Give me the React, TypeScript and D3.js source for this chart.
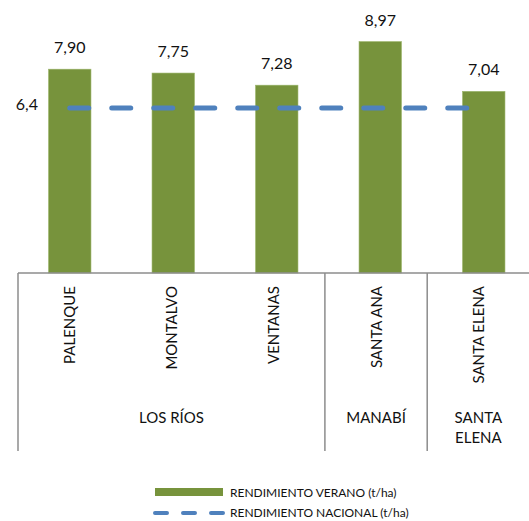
import React from "react";
import * as d3 from "d3";

// Yield per canton (t/ha) and the national reference line
const cantons = ["PALENQUE", "MONTALVO", "VENTANAS", "SANTA ANA", "SANTA ELENA"];
const provinces = ["LOS RÍOS", "LOS RÍOS", "LOS RÍOS", "MANABÍ", "SANTA ELENA"];
const provinceLines: string[][] = [["LOS RÍOS"], ["MANABÍ"], ["SANTA", "ELENA"]];
const rendimientoVerano = [7.9, 7.75, 7.28, 8.97, 7.04];
const rendimientoNacional = 6.4;
const seriesNames = ["RENDIMIENTO VERANO (t/ha)", "RENDIMIENTO NACIONAL (t/ha)"];

const W = 529;
const H = 521;
const FONT = "Lato, 'Open Sans', sans-serif";
const GREEN = "#77933C";
const BLUE = "#4F81BD";
const AXIS = "#8C8C8C";

const fmt = (v: number, digits: number) => v.toFixed(digits).replace(".", ",");

export default function App() {
  const baseY = 273;
  const y = d3.scaleLinear().domain([0, 10]).range([baseY, 15]);

  // bars and the category axis each have their own band
  const xBars = d3.scaleBand<string>().domain(cantons).range([18, 535.5]).paddingInner(0.59).paddingOuter(0.295);
  const xAxis = d3.scaleBand<string>().domain(cantons).range([18, 529.5]).padding(0);

  const center = (s: d3.ScaleBand<string>, c: string) => (s(c) as number) + s.bandwidth() / 2;

  // province groups: contiguous runs of categories
  const groups: { name: string; start: number; end: number }[] = [];
  provinces.forEach((p, i) => {
    const last = groups[groups.length - 1];
    if (last && last.name === p) last.end = i;
    else groups.push({ name: p, start: i, end: i });
  });
  const groupLeft = (g: { start: number }) => xAxis(cantons[g.start]) as number;
  const groupRight = (g: { end: number }) => (xAxis(cantons[g.end]) as number) + xAxis.bandwidth();

  const natY = y(rendimientoNacional);
  const lineGen = d3.line<string>().x((c) => center(xBars, c)).y(() => natY);
  const natPath = lineGen([cantons[0], cantons[cantons.length - 1]]) as string;

  return (
    <svg width={W} height={H} style={{ position: "absolute", left: 0, top: 0, background: "#fff" }} fontFamily={FONT}>
      {/* bars */}
      {cantons.map((c, i) => (
        <rect
          key={c}
          x={xBars(c)}
          y={y(rendimientoVerano[i])}
          width={xBars.bandwidth()}
          height={baseY - y(rendimientoVerano[i])}
          fill={GREEN}
          stroke="#9BB56A"
          strokeWidth={0.6}
        />
      ))}
      {/* value labels */}
      {cantons.map((c, i) => (
        <text key={c} x={center(xBars, c)} y={y(rendimientoVerano[i]) - 16} textAnchor="middle" fontSize={16} fill="#111">
          {fmt(rendimientoVerano[i], 2)}
        </text>
      ))}
      {/* national reference line */}
      <path d={natPath} stroke={BLUE} strokeWidth={5} strokeDasharray="19,23" strokeLinecap="round" fill="none" />
      <text x={38} y={natY + 2} textAnchor="end" fontSize={16} fill="#111">
        {fmt(rendimientoNacional, 1)}
      </text>

      {/* category axis */}
      <line x1={18} x2={W} y1={baseY} y2={baseY} stroke={AXIS} strokeWidth={1.5} />
      {groups.map((g) => (
        <line key={"sep" + g.start} x1={groupLeft(g)} x2={groupLeft(g)} y1={baseY} y2={451} stroke={AXIS} strokeWidth={1.5} />
      ))}
      {cantons.map((c) => (
        <text
          key={c}
          transform={`translate(${center(xAxis, c) + 5.5},${baseY + 13}) rotate(-90)`}
          textAnchor="end"
          fontSize={15}
          fill="#111"
        >
          {c}
        </text>
      ))}
      {groups.map((g, gi) => (
        <text key={"g" + g.start} x={(groupLeft(g) + groupRight(g)) / 2} textAnchor="middle" fontSize={15} fill="#111">
          {provinceLines[gi].map((ln, li) => (
            <tspan key={li} x={(groupLeft(g) + groupRight(g)) / 2} y={423 + li * 20}>
              {ln}
            </tspan>
          ))}
        </text>
      ))}

      {/* legend */}
      <rect x={155} y={488} width={68} height={8} fill={GREEN} />
      <text x={230} y={496.5} fontSize={12} fill="#111">
        {seriesNames[0]}
      </text>
      <line x1={155} x2={225} y1={513} y2={513} stroke={BLUE} strokeWidth={4} strokeDasharray="12,16" strokeLinecap="round" />
      <text x={230} y={517} fontSize={12} fill="#111">
        {seriesNames[1]}
      </text>
    </svg>
  );
}
